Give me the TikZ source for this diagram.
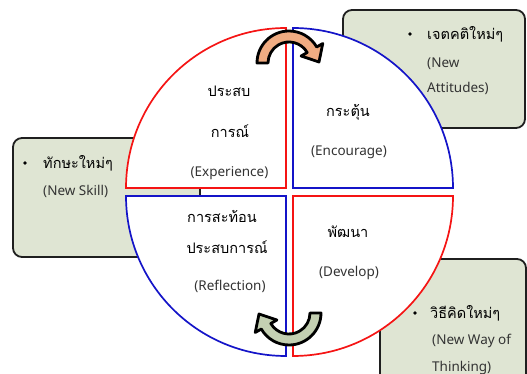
\documentclass[tikz,border=0pt]{standalone}
\usepackage{fontspec}
\setmainfont{Noto Sans}
\newfontfamily\thaifont[Script=Thai]{Loma}
\definecolor{boxfill}{RGB}{223,229,211}
\definecolor{qred}{RGB}{245,20,20}
\definecolor{qblue}{RGB}{20,20,200}
\definecolor{peach}{RGB}{240,172,130}
\definecolor{sage}{RGB}{196,208,178}
\begin{document}
\begin{tikzpicture}[x=1pt,y=1pt,
  box/.style={draw=black!88, line width=1.8pt, fill=boxfill, rounded corners=9pt},
  quad/.style={fill=white, line width=1.7pt},
  arr/.style={draw=black, line width=2.8pt, line join=round},
  thai/.style={font=\thaifont\fontsize{14.5}{16}\selectfont, text=black, inner sep=0pt, anchor=base},
  lat/.style={font=\fontsize{13.5}{16}\selectfont, text=black!80, inner sep=0pt, anchor=base},
  bul/.style={circle, fill=black, inner sep=0pt, minimum size=3.6pt}]
\useasboundingbox (0,0) rectangle (527,374);
\clip (0,0) rectangle (527,374);
% boxes
\draw[box] (343,364) rectangle (525,246);
\draw[box] (13,236) rectangle (200,117);
\draw[box] (380,115) rectangle (526,-20);
% quadrants
\draw[quad, draw=qred] (286,186) -- (126,186) arc[start angle=180, end angle=90, radius=160] -- cycle;
\draw[quad, draw=qblue] (293,186) -- (293,346) arc[start angle=90, end angle=0, radius=160] -- cycle;
\draw[quad, draw=qblue] (286,178) -- (126,178) arc[start angle=180, end angle=270, radius=160] -- cycle;
\draw[quad, draw=qred] (293,178) -- (453,178) arc[start angle=0, end angle=-90, radius=160] -- cycle;
% curved arrows
\begin{scope}[shift={(289,311)}]
\draw[arr, fill=peach] (180:32) arc[start angle=180, end angle=30, radius=32] -- (30:39) -- (30,1) -- (30:14) -- (30:21) arc[start angle=30, end angle=180, radius=21] -- cycle;
\end{scope}
\begin{scope}[shift={(289,61)}, rotate=180]
\draw[arr, fill=sage] (180:32) arc[start angle=180, end angle=30, radius=32] -- (30:39) -- (30,1) -- (30:14) -- (30:21) arc[start angle=30, end angle=180, radius=21] -- cycle;
\end{scope}
% quadrant texts
\node[thai] (ul1) at (229,277) {ประสบ};
\node[thai] (ul2) at (230,236) {การณ์};
\node[lat] (ul3) at (229.5,197.6) {(Experience)};
\node[thai] (ur1) at (348,257) {กระตุ้น};
\node[lat] (ur2) at (349,218.6) {(Encourage)};
\node[thai] (ll1) at (222,151) {การสะท้อน};
\node[thai] (ll2) at (227,120) {ประสบการณ์};
\node[lat] (ll3) at (230,83.6) {(Reflection)};
\node[thai] (lr1) at (348,136) {พัฒนา};
\node[lat] (lr2) at (349,97.6) {(Develop)};
% box texts
\node[bul] (b1) at (410,340) {};
\node[thai, anchor=base west] (t1) at (427,334) {เจตคติใหม่ๆ};
\node[lat, anchor=base west] (t2) at (427,306.6) {(New};
\node[lat, anchor=base west] (t3) at (427,281.6) {Attitudes)};
\node[bul] (b2) at (25,211) {};
\node[thai, anchor=base west] (s1) at (43,205) {ทักษะใหม่ๆ};
\node[lat, anchor=base west] (s2) at (43,178.6) {(New Skill)};
\node[bul] (b3) at (415,61) {};
\node[thai, anchor=base west] (w1) at (430,55) {วิธีคิดใหม่ๆ};
\node[lat, anchor=base west] (w2) at (432,29.6) {(New Way of};
\node[lat, anchor=base west] (w3) at (432,2.6) {Thinking)};
\end{tikzpicture}
\end{document}
